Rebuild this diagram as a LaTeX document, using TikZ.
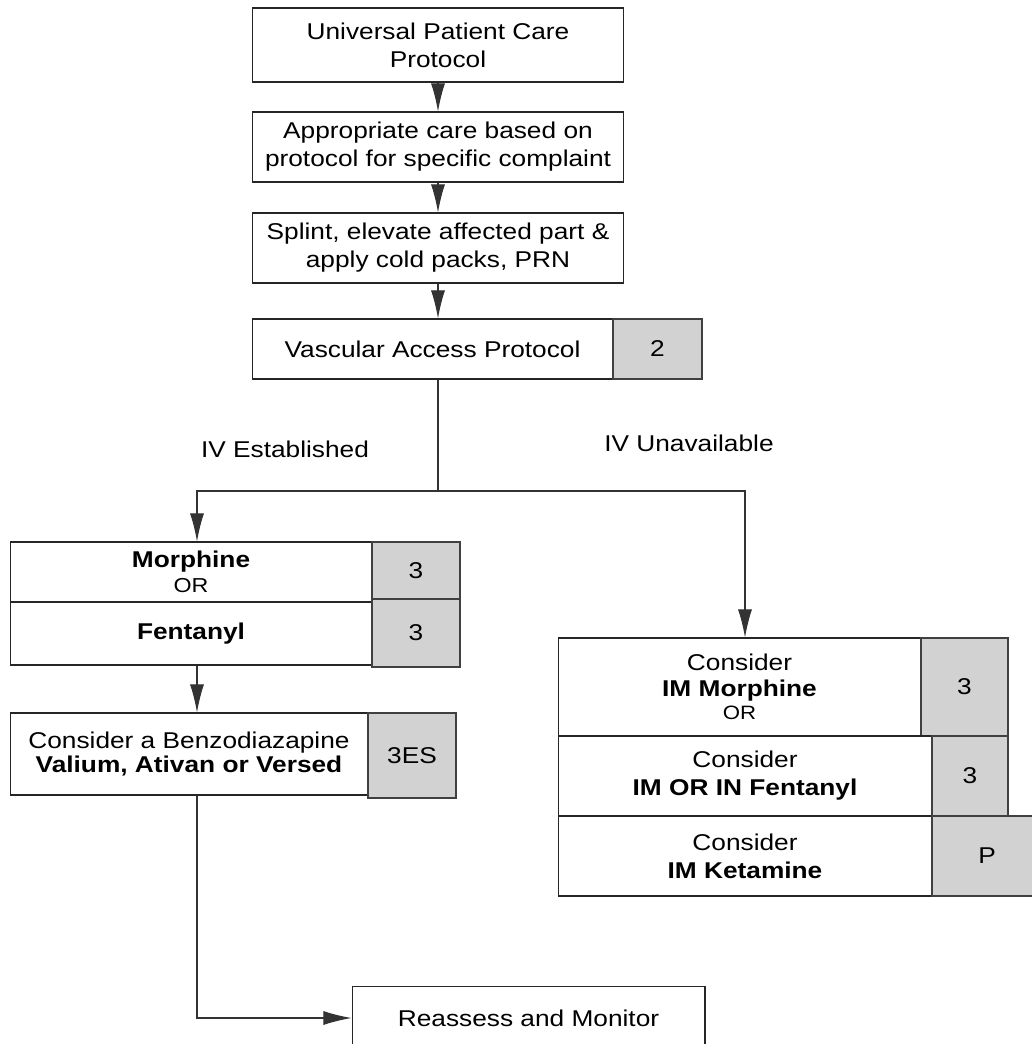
\documentclass[tikz,border=0pt]{standalone}
\usepackage{fontspec}
\setmainfont{Liberation Sans}[FakeStretch=1.15]
\usetikzlibrary{arrows.meta}

\begin{document}
\begin{tikzpicture}[x=0.02cm, y=-0.02cm, >={Latex[length=16pt,width=8pt]}, line width=0.6pt,
    font=\fontsize{13}{16}\selectfont,
    box/.style={draw=black!85, fill=white, inner sep=0pt, align=center},
    numbox/.style={draw=black!75, fill=gray!35, inner sep=0pt, align=center},
    flow/.style={->, draw=black!80}]
    \useasboundingbox (0,0) rectangle (1031,1044);

    % Top chain
    \node[box, minimum width=7.44cm, minimum height=1.48cm] (univ) at (438,45) {Universal Patient Care\\Protocol};
    \node[box, minimum width=7.44cm, minimum height=1.4cm] (approp) at (438,147) {Appropriate care based on\\protocol for specific complaint};
    \node[box, minimum width=7.44cm, minimum height=1.4cm] (splint) at (438,248) {Splint, elevate affected part \&\\apply cold packs, PRN};

    % Vascular access
    \node[box, minimum width=7.22cm, minimum height=1.2cm] (vasc) at (432.5,349) {Vascular Access Protocol};
    \node[numbox, minimum width=1.78cm, minimum height=1.2cm] (vascnum) at (657.5,349) {2};

    % IV established branch
    \node[box, minimum width=7.24cm, minimum height=1.2cm] (morph) at (191,572) {\textbf{Morphine}\\[-2pt]{\fontsize{11.5}{12}\selectfont OR}};
    \node[numbox, minimum width=1.76cm, minimum height=1.14cm] (morphnum) at (416,570.5) {3};
    \node[box, minimum width=7.24cm, minimum height=1.26cm] (fent) at (191,633.5) {\textbf{Fentanyl}};
    \node[numbox, minimum width=1.76cm, minimum height=1.36cm] (fentnum) at (416,633) {3};

    \node[box, minimum width=7.16cm, minimum height=1.64cm, font=\fontsize{13}{13.8}\selectfont] (benzo) at (189,754) {Consider a Benzodiazapine\\\textbf{Valium, Ativan or Versed}};
    \node[numbox, minimum width=1.76cm, minimum height=1.7cm] (benzonum) at (412,755.5) {3ES};

    % IV unavailable branch
    \node[box, minimum width=7.26cm, minimum height=1.96cm] (imm) at (739.5,687) {Consider\\[-1pt]\textbf{IM Morphine}\\[-3pt]{\fontsize{11}{12}\selectfont OR}};
    \node[numbox, minimum width=1.74cm, minimum height=1.96cm] (immnum) at (964.5,687) {3};
    \node[box, minimum width=7.48cm, minimum height=1.6cm] (imf) at (745,776) {Consider\\\textbf{IM OR IN Fentanyl}};
    \node[numbox, minimum width=1.52cm, minimum height=1.6cm] (imfnum) at (970,776) {3};
    \node[box, minimum width=7.48cm, minimum height=1.6cm] (imk) at (745,856) {Consider\\\textbf{IM Ketamine}};
    \node[numbox, minimum width=2.2cm, minimum height=1.6cm] (imknum) at (987,856) {P};

    % End box
    \node[box, minimum width=7.06cm, minimum height=1.26cm] (reass) at (528.5,1018) {Reassess and Monitor};

    % Branch labels
    \node (ivest) at (285,449) {IV Established};
    \node (ivuna) at (689,443) {IV Unavailable};

    % Connectors
    \draw[flow] (univ) -- (approp);
    \draw[flow] (approp) -- (splint);
    \draw[flow] (splint) -- (splint.south |- vasc.north);
    \coordinate (split) at (438,491);
    \draw[draw=black!80] (vasc.south -| splint.south) -- (split);
    \draw[flow] (split) -| ([xshift=0.12cm]morph.north);
    \draw[flow] (split) -| (imm.north -| imf.north);
    \draw[flow] ([xshift=0.12cm]fent.south) -- ([xshift=0.12cm]fent.south |- benzo.north);
    \draw[flow] ([xshift=0.16cm]benzo.south) |- (reass.west);
\end{tikzpicture}
\end{document}
